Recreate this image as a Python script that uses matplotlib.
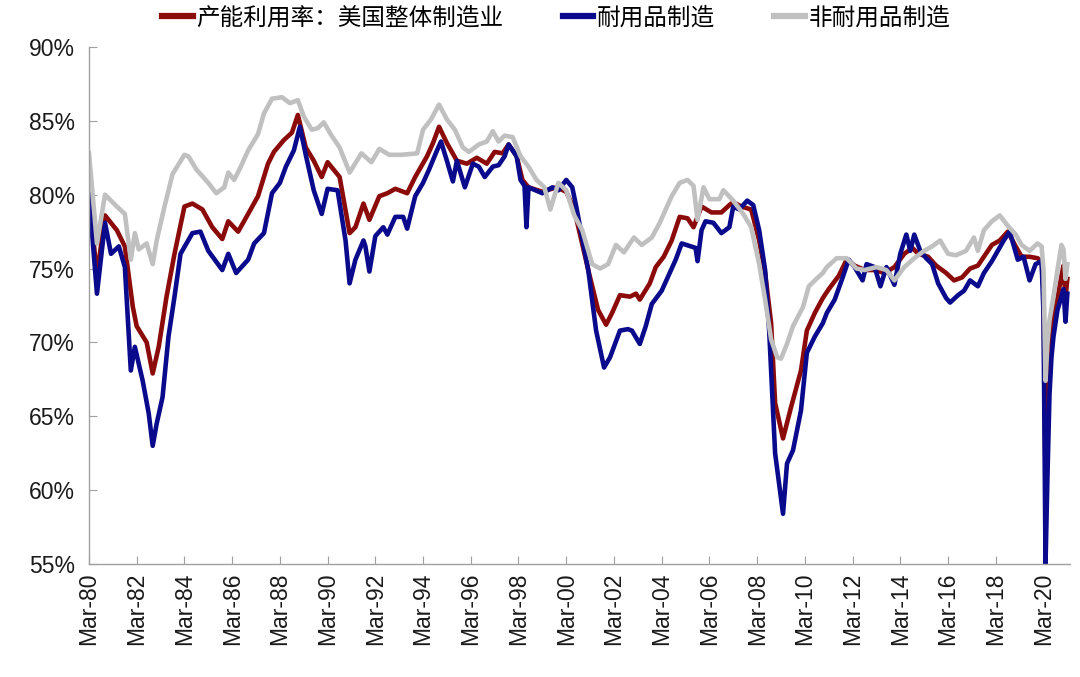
import pandas as pd
import matplotlib
matplotlib.use("Agg")
import matplotlib.pyplot as plt
import matplotlib.dates as mdates
from matplotlib.ticker import FuncFormatter

plt.rcParams['font.family'] = ['Liberation Sans', 'Noto Sans CJK SC', 'DejaVu Sans']

# 产能利用率：美国整体制造业
red_dates = [
    "1980-03", "1980-07", "1980-11", "1981-05", "1981-09", "1982-01", "1982-03", "1982-08",
    "1982-11", "1983-02", "1983-06", "1983-10", "1984-03", "1984-07", "1984-12", "1985-05",
    "1985-10", "1986-01", "1986-06", "1986-11", "1987-04", "1987-09", "1987-12", "1988-05",
    "1988-09", "1988-12", "1989-04", "1989-08", "1989-12", "1990-03", "1990-09", "1991-02",
    "1991-05", "1991-09", "1991-12", "1992-05", "1992-09", "1993-01", "1993-07", "1993-11",
    "1994-05", "1994-08", "1994-11", "1995-03", "1995-08", "1996-01", "1996-06", "1996-11",
    "1997-03", "1997-07", "1997-10", "1998-02", "1998-05", "1998-08", "1999-03", "1999-10",
    "2000-03", "2000-07", "2001-02", "2001-07", "2001-11", "2002-02", "2002-06", "2002-11",
    "2003-02", "2003-04", "2003-09", "2003-12", "2004-04", "2004-08", "2004-12", "2005-04",
    "2005-07", "2005-11", "2006-04", "2006-09", "2007-01", "2007-03", "2007-07", "2007-12",
    "2008-04", "2008-07", "2008-10", "2008-12", "2009-04", "2009-08", "2010-01", "2010-04",
    "2010-08", "2010-12", "2011-03", "2011-08", "2011-12", "2012-04", "2012-09", "2013-02",
    "2013-07", "2013-12", "2014-05", "2014-09", "2014-12", "2015-05", "2015-09", "2016-02",
    "2016-06", "2016-10", "2017-02", "2017-06", "2017-10", "2018-01", "2018-05", "2018-09",
    "2019-01", "2019-04", "2019-08", "2019-12", "2020-02", "2020-03", "2020-04", "2020-05",
    "2020-06", "2020-08", "2020-10", "2020-12", "2021-01", "2021-02", "2021-03",
]
red_vals = [
    80.0, 74.5, 78.6, 77.6, 76.5, 72.4, 71.1, 70.0,
    67.9, 69.7, 73.1, 76.0, 79.2, 79.4, 79.0, 77.8,
    77.0, 78.2, 77.5, 78.7, 79.9, 82.1, 82.9, 83.7,
    84.2, 85.4, 83.2, 82.3, 81.2, 82.2, 81.2, 77.4,
    77.8, 79.4, 78.3, 79.9, 80.1, 80.4, 80.1, 81.2,
    82.6, 83.5, 84.6, 83.5, 82.3, 82.1, 82.5, 82.1,
    82.9, 82.8, 83.4, 82.6, 81.0, 80.5, 80.2, 80.5,
    80.2, 79.0, 74.9, 72.2, 71.2, 72.0, 73.2, 73.1,
    73.3, 72.9, 74.0, 75.1, 75.8, 76.9, 78.5, 78.4,
    77.8, 79.2, 78.8, 78.8, 79.3, 79.5, 79.2, 79.0,
    76.9, 74.7, 71.3, 65.9, 63.5, 65.6, 68.1, 70.8,
    72.0, 73.0, 73.6, 74.5, 75.6, 75.2, 74.9, 74.9,
    74.7, 75.1, 76.0, 76.4, 76.0, 75.8, 75.2, 74.7,
    74.2, 74.4, 75.0, 75.2, 76.0, 76.6, 76.9, 77.5,
    76.5, 75.8, 75.8, 75.7, 75.5, 73.5, 60.5, 63.5,
    68.5, 71.5, 73.0, 74.5, 75.2, 73.0, 74.3,
]

# 耐用品制造
blue_dates = [
    "1980-03", "1980-07", "1980-11", "1981-02", "1981-06", "1981-09", "1981-12", "1982-02",
    "1982-06", "1982-09", "1982-11", "1983-01", "1983-04", "1983-07", "1983-10", "1984-01",
    "1984-07", "1984-11", "1985-03", "1985-10", "1986-01", "1986-05", "1986-11", "1987-02",
    "1987-07", "1987-11", "1988-03", "1988-06", "1988-10", "1989-01", "1989-04", "1989-08",
    "1989-12", "1990-03", "1990-08", "1990-12", "1991-02", "1991-05", "1991-09", "1991-10",
    "1991-12", "1992-03", "1992-07", "1992-09", "1993-01", "1993-05", "1993-07", "1993-11",
    "1994-03", "1994-06", "1994-10", "1994-12", "1995-03", "1995-06", "1995-08", "1995-12",
    "1996-04", "1996-07", "1996-10", "1997-02", "1997-05", "1997-08", "1997-10", "1998-02",
    "1998-04", "1998-06", "1998-07", "1998-08", "1999-03", "1999-08", "1999-11", "2000-03",
    "2000-06", "2000-08", "2001-02", "2001-06", "2001-10", "2002-01", "2002-06", "2002-10",
    "2002-12", "2003-04", "2003-07", "2003-10", "2004-03", "2004-07", "2004-10", "2005-01",
    "2005-08", "2005-09", "2005-11", "2006-01", "2006-05", "2006-09", "2007-01", "2007-03",
    "2007-06", "2007-10", "2008-01", "2008-04", "2008-07", "2008-09", "2008-12", "2009-02",
    "2009-04", "2009-06", "2009-09", "2010-01", "2010-04", "2010-08", "2010-12", "2011-02",
    "2011-06", "2011-10", "2012-01", "2012-04", "2012-08", "2012-10", "2013-02", "2013-05",
    "2013-08", "2013-12", "2014-03", "2014-06", "2014-08", "2014-10", "2015-01", "2015-04",
    "2015-07", "2015-10", "2016-02", "2016-04", "2016-08", "2016-11", "2017-02", "2017-06",
    "2017-09", "2018-01", "2018-04", "2018-07", "2018-10", "2019-02", "2019-05", "2019-08",
    "2019-11", "2020-02", "2020-03", "2020-04", "2020-05", "2020-06", "2020-07", "2020-08",
    "2020-10", "2020-12", "2021-01", "2021-02", "2021-03",
]
blue_vals = [
    80.0, 73.3, 78.1, 76.0, 76.5, 75.1, 68.1, 69.7,
    67.4, 65.2, 63.0, 64.5, 66.3, 70.4, 73.1, 76.0,
    77.4, 77.5, 76.2, 74.9, 76.0, 74.7, 75.6, 76.7,
    77.4, 80.1, 80.8, 81.9, 83.0, 84.6, 82.7, 80.3,
    78.7, 80.4, 80.3, 76.9, 74.0, 75.6, 76.9, 76.5,
    74.8, 77.2, 77.8, 77.3, 78.5, 78.5, 77.7, 79.9,
    80.8, 81.7, 83.0, 83.6, 82.3, 80.9, 82.3, 80.5,
    82.1, 81.9, 81.2, 81.9, 82.0, 82.6, 83.4, 82.6,
    81.0, 80.6, 77.8, 80.5, 80.1, 80.5, 80.3, 81.0,
    80.5, 79.2, 74.9, 70.8, 68.3, 69.0, 70.8, 70.9,
    70.8, 69.9, 71.1, 72.6, 73.5, 74.7, 75.6, 76.7,
    76.4, 75.5, 77.6, 78.2, 78.1, 77.4, 77.8, 79.2,
    79.0, 79.6, 79.3, 77.6, 74.9, 70.8, 62.5, 60.4,
    58.4, 61.8, 62.7, 65.4, 69.3, 70.4, 71.3, 72.0,
    72.9, 74.4, 75.6, 75.1, 74.2, 75.3, 75.1, 73.8,
    75.1, 73.9, 76.0, 77.3, 76.2, 77.3, 76.2, 75.7,
    75.3, 74.0, 73.0, 72.7, 73.2, 73.5, 74.2, 73.8,
    74.7, 75.5, 76.2, 76.9, 77.5, 75.6, 75.8, 74.2,
    75.3, 75.5, 72.0, 55.0, 61.0, 66.5, 69.0, 70.4,
    72.2, 73.1, 73.6, 71.4, 73.3,
]

# 非耐用品制造
gray_dates = [
    "1980-03", "1980-07", "1980-11", "1981-05", "1981-09", "1981-12", "1982-02", "1982-04",
    "1982-08", "1982-11", "1983-01", "1983-05", "1983-09", "1984-03", "1984-05", "1984-09",
    "1985-03", "1985-07", "1985-11", "1986-01", "1986-04", "1986-07", "1986-11", "1987-04",
    "1987-07", "1987-11", "1988-04", "1988-08", "1988-12", "1989-03", "1989-07", "1989-10",
    "1990-01", "1990-05", "1990-09", "1991-02", "1991-08", "1992-01", "1992-05", "1992-10",
    "1993-04", "1993-12", "1994-03", "1994-07", "1994-11", "1995-03", "1995-07", "1995-11",
    "1996-02", "1996-07", "1996-11", "1997-02", "1997-05", "1997-08", "1997-12", "1998-04",
    "1998-08", "1998-12", "1999-04", "1999-07", "1999-11", "2000-03", "2000-07", "2000-11",
    "2001-04", "2001-08", "2001-12", "2002-04", "2002-08", "2003-01", "2003-05", "2003-10",
    "2004-02", "2004-05", "2004-08", "2004-12", "2005-04", "2005-07", "2005-09", "2005-12",
    "2006-03", "2006-08", "2006-10", "2007-03", "2007-08", "2007-12", "2008-04", "2008-07",
    "2008-10", "2009-01", "2009-03", "2009-06", "2009-09", "2010-02", "2010-05", "2010-08",
    "2010-12", "2011-02", "2011-07", "2011-12", "2012-05", "2012-09", "2013-03", "2013-08",
    "2013-12", "2014-05", "2014-10", "2015-03", "2015-07", "2015-11", "2016-03", "2016-07",
    "2016-12", "2017-04", "2017-06", "2017-09", "2018-01", "2018-05", "2018-09", "2019-01",
    "2019-04", "2019-08", "2019-12", "2020-02", "2020-03", "2020-04", "2020-05", "2020-06",
    "2020-08", "2020-10", "2020-12", "2021-01", "2021-02", "2021-03",
]
gray_vals = [
    82.8, 76.7, 80.0, 79.2, 78.7, 75.6, 77.4, 76.3,
    76.7, 75.3, 76.9, 79.2, 81.4, 82.7, 82.6, 81.7,
    80.8, 80.1, 80.5, 81.5, 81.0, 81.8, 83.0, 84.1,
    85.5, 86.5, 86.6, 86.2, 86.4, 85.3, 84.4, 84.5,
    84.9, 84.0, 83.2, 81.5, 82.8, 82.2, 83.1, 82.7,
    82.7, 82.8, 84.4, 85.1, 86.1, 85.1, 84.4, 83.2,
    82.9, 83.4, 83.6, 84.3, 83.6, 84.0, 83.9, 82.6,
    81.9, 81.0, 80.5, 79.0, 80.8, 80.3, 78.6, 77.6,
    75.3, 75.0, 75.3, 76.6, 76.1, 77.1, 76.6, 77.1,
    78.1, 79.0, 79.9, 80.8, 81.0, 80.6, 78.3, 80.5,
    79.7, 79.7, 80.3, 79.6, 78.7, 77.8, 75.3, 72.9,
    70.2, 69.0, 68.9, 69.9, 71.1, 72.4, 73.8, 74.2,
    74.7, 75.1, 75.7, 75.7, 75.0, 74.9, 75.1, 74.9,
    74.2, 75.1, 75.7, 76.2, 76.5, 76.9, 76.0, 75.9,
    76.2, 77.1, 76.2, 77.6, 78.2, 78.6, 77.9, 77.3,
    76.6, 76.2, 76.7, 76.5, 74.9, 67.4, 70.0, 71.5,
    73.1, 74.9, 76.6, 76.3, 74.3, 75.3,
]

series = [
    ("产能利用率：美国整体制造业", red_dates, red_vals, "#8B0A0A"),
    ("耐用品制造", blue_dates, blue_vals, "#0A0A8C"),
    ("非耐用品制造", gray_dates, gray_vals, "#C0C0C0"),
]

fig = plt.figure(figsize=(10.8, 6.77), dpi=100)
ax = fig.add_axes([0.0824, 0.1669, 0.9083, 0.7637])

for name, d, v, c in series:
    ax.plot(pd.to_datetime(d), v, color=c, linewidth=3.3, label=name,
            solid_joinstyle="round")

ax.set_ylim(55, 90)
ax.set_yticks(range(55, 91, 5))
ax.yaxis.set_major_formatter(FuncFormatter(lambda v, p: f"{v:.0f}%"))
ax.set_xlim(pd.Timestamp("1980-03-01"), pd.Timestamp("2021-04-10"))
ax.xaxis.set_major_locator(mdates.YearLocator(2, month=3, day=1))
ax.xaxis.set_major_formatter(mdates.DateFormatter("%b-%y"))

for s in ["top", "right"]:
    ax.spines[s].set_visible(False)
for s in ["left", "bottom"]:
    ax.spines[s].set_color("#A0A0A0")
    ax.spines[s].set_linewidth(1.0)

ax.tick_params(axis="both", direction="in", length=6, color="#A0A0A0",
               labelsize=16.5, labelcolor="#1a1a1a")
ax.tick_params(axis="x", rotation=90, pad=6)
ax.tick_params(axis="y", pad=10)

leg = fig.legend(loc="upper center", bbox_to_anchor=(0.515, 1.022), ncol=3,
                 frameon=False, handlelength=1.3, handletextpad=0.15,
                 columnspacing=2.5,
                 prop={"family": ["Noto Sans CJK SC"], "size": 17})
for line in leg.get_lines():
    line.set_linewidth(4.5)

fig.savefig("out.png", dpi=100)
